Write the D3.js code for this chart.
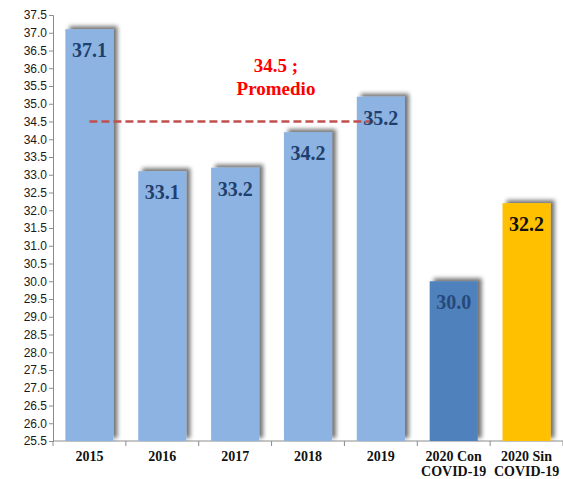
<!DOCTYPE html>
<html>
<head>
<meta charset="utf-8">
<script src="https://cdn.jsdelivr.net/npm/d3@7"></script>
<style>
  body { margin: 0; background: #fff; }
  svg { display: block; }
</style>
</head>
<body>
<div id="chart"></div>
<script>
// chart data
var categories = ["2015", "2016", "2017", "2018", "2019", "2020 Con|COVID-19", "2020 Sin|COVID-19"];
var values = [37.1, 33.1, 33.2, 34.2, 35.2, 30.0, 32.2];
var barColors = ["#8db3e2", "#8db3e2", "#8db3e2", "#8db3e2", "#8db3e2", "#4f81bd", "#ffc000"];
var labelColors = ["#1f3f6e", "#1f3f6e", "#1f3f6e", "#1f3f6e", "#1f3f6e", "#27497a", "#111111"];
var average = 34.5;
var averageLabel = ["34.5 ;", "Promedio"];

var width = 563, height = 479;
var margin = {top: 15, right: 0, bottom: 38, left: 53};

var svg = d3.select("#chart").append("svg")
    .attr("width", width)
    .attr("height", height);

// drop shadow for the bars
var defs = svg.append("defs");
var filter = defs.append("filter")
    .attr("id", "shadow")
    .attr("x", "-30%").attr("y", "-30%")
    .attr("width", "160%").attr("height", "160%");
filter.append("feGaussianBlur")
    .attr("in", "SourceAlpha")
    .attr("stdDeviation", 2.2);
filter.append("feOffset")
    .attr("dx", 4).attr("dy", -3)
    .attr("result", "off");
filter.append("feComponentTransfer").append("feFuncA")
    .attr("type", "linear").attr("slope", 0.55);
var merge = filter.append("feMerge");
merge.append("feMergeNode");
merge.append("feMergeNode").attr("in", "SourceGraphic");

var x = d3.scaleBand()
    .domain(categories)
    .range([margin.left, width - margin.right])
    .paddingInner(0.34)
    .paddingOuter(0.17);

var y = d3.scaleLinear()
    .domain([25.5, 37.5])
    .range([height - margin.bottom, margin.top]);

// y axis
var yTicks = d3.range(25.5, 37.51, 0.5);
var yAxis = svg.append("g")
    .attr("transform", "translate(" + margin.left + ",0)")
    .call(d3.axisLeft(y).tickValues(yTicks).tickFormat(d3.format(".1f")).tickSize(4).tickPadding(2));
yAxis.selectAll("text")
    .style("font-family", "'Liberation Sans Narrow', 'Liberation Sans', sans-serif")
    .style("font-size", "12px")
    .style("fill", "#1a1a1a");
yAxis.selectAll("line, path").attr("stroke", "#8c8c8c");

// x axis: line with ticks at the band boundaries
var bandStep = x.step();
var xBase = y.range()[0];
svg.append("line")
    .attr("x1", margin.left).attr("x2", width - margin.right)
    .attr("y1", xBase).attr("y2", xBase)
    .attr("stroke", "#8c8c8c");
svg.selectAll(".xtick")
    .data(d3.range(categories.length + 1))
    .enter().append("line")
    .attr("class", "xtick")
    .attr("x1", function(i) { return margin.left + i * bandStep; })
    .attr("x2", function(i) { return margin.left + i * bandStep; })
    .attr("y1", xBase).attr("y2", xBase + 5)
    .attr("stroke", "#8c8c8c");

var xLabels = svg.selectAll(".xlabel")
    .data(categories)
    .enter().append("text")
    .attr("class", "xlabel")
    .attr("text-anchor", "middle")
    .style("font-family", "'Liberation Serif', 'Times New Roman', serif")
    .style("font-weight", "bold")
    .style("font-size", "14px")
    .style("fill", "#111");
xLabels.each(function(d) {
  var parts = d.split("|");
  var t = d3.select(this);
  parts.forEach(function(p, i) {
    t.append("tspan")
      .attr("x", x(d) + x.bandwidth() / 2)
      .attr("y", 461 + i * 15)
      .text(p);
  });
});

// bars
svg.selectAll(".bar")
    .data(values)
    .enter().append("rect")
    .attr("class", "bar")
    .attr("x", function(d, i) { return x(categories[i]); })
    .attr("width", x.bandwidth())
    .attr("y", function(d) { return y(d); })
    .attr("height", function(d) { return xBase - y(d); })
    .attr("fill", function(d, i) { return barColors[i]; })
    .attr("filter", "url(#shadow)");

// average line, from 2015 to 2019
svg.append("line")
    .attr("x1", x(categories[0]) + x.bandwidth() / 2)
    .attr("x2", x(categories[4]) + x.bandwidth() / 2 - 4)
    .attr("y1", y(average)).attr("y2", y(average))
    .attr("stroke", "#c0504d")
    .attr("stroke-width", 2.5)
    .attr("stroke-dasharray", "8,4");

// value labels
svg.selectAll(".vlabel")
    .data(values)
    .enter().append("text")
    .attr("class", "vlabel")
    .attr("x", function(d, i) { return x(categories[i]) + x.bandwidth() / 2; })
    .attr("y", function(d) { return y(d) + 28; })
    .attr("text-anchor", "middle")
    .style("font-family", "'Liberation Serif', 'Times New Roman', serif")
    .style("font-weight", "bold")
    .style("font-size", "20px")
    .style("fill", function(d, i) { return labelColors[i]; })
    .text(function(d) { return d3.format(".1f")(d); });

// average annotation
svg.selectAll(".avglabel")
    .data(averageLabel)
    .enter().append("text")
    .attr("class", "avglabel")
    .attr("x", 276)
    .attr("y", function(d, i) { return 72 + i * 23; })
    .attr("text-anchor", "middle")
    .style("font-family", "'Liberation Serif', 'Times New Roman', serif")
    .style("font-weight", "bold")
    .style("font-size", "19px")
    .style("fill", "#ff0000")
    .text(function(d) { return d; });
</script>
</body>
</html>
